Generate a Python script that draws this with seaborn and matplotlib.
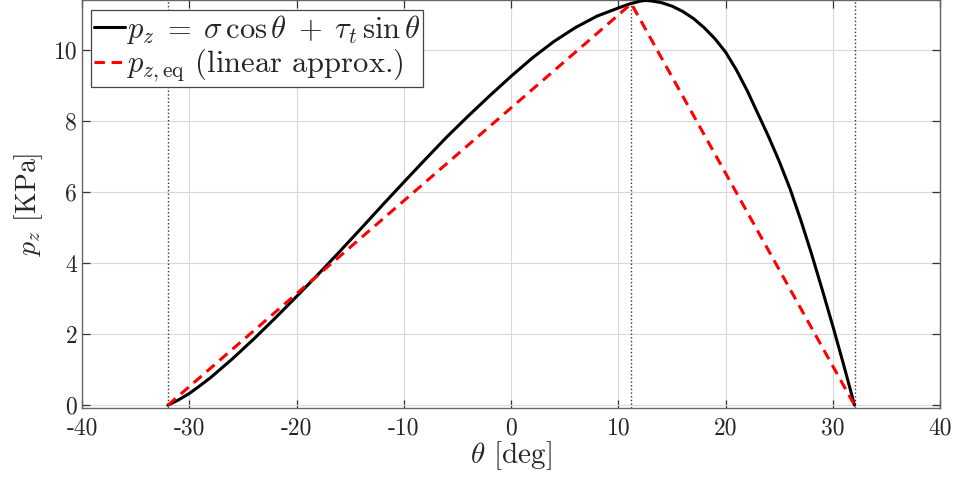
import numpy as np
import pandas as pd
import matplotlib
matplotlib.use('Agg')
import matplotlib.pyplot as plt
import seaborn as sns

# values
theta = [-32, -31, -30, -29, -28, -26, -24, -22, -20, -18, -16, -14, -12, -10,
         -8, -6, -4, -2, 0, 2, 4, 6, 8, 10, 11, 12, 12.5, 13, 14, 15, 16, 17, 18,
         19, 20, 21, 22, 23, 24, 25, 26, 27, 28, 29, 30, 31, 32]
p_z = [0.0, 0.15, 0.33, 0.55, 0.78, 1.30, 1.86, 2.45, 3.06, 3.68, 4.32, 4.97, 5.63, 6.28,
       6.92, 7.55, 8.14, 8.71, 9.26, 9.78, 10.24, 10.63, 10.95, 11.18, 11.29, 11.37, 11.39, 11.38,
       11.33, 11.23, 11.08, 10.88, 10.62, 10.31, 9.93, 9.43, 8.85, 8.20, 7.55, 6.85, 6.08, 5.20,
       4.25, 3.24, 2.20, 1.12, 0.0]
theta_eq = [-32.0, 11.2, 32.0]
p_eq = [0.0, 11.3, 0.0]
theta_marks = [-32.0, 11.2, 32.0]

curve = pd.DataFrame({'theta': theta, 'p': p_z})
approx = pd.DataFrame({'theta': theta_eq, 'p': p_eq})

sns.set_style('ticks')
plt.rcParams.update({
    'font.family': 'cmr10',
    'mathtext.fontset': 'cm',
    'axes.unicode_minus': False,
    'axes.formatter.use_mathtext': False,
})

fig = plt.figure(figsize=(9.58, 4.90), dpi=100)
ax = fig.add_axes([0.0856, 0.168, 0.896, 0.831])

for xv in theta_marks:
    ax.axvline(xv, color='#333333', linestyle=':', linewidth=1.0, zorder=1)

sns.lineplot(data=curve, x='theta', y='p', sort=False, color='black',
             linewidth=2.2, ax=ax,
             label=r'$p_z\;=\;\sigma\,\cos\theta\;+\;\tau_t\,\sin\theta$', zorder=3)
sns.lineplot(data=approx, x='theta', y='p', sort=False, color='red',
             linewidth=2.2, ax=ax,
             label=r'$p_{z,\mathrm{eq}}$ (linear approx.)', zorder=4)
ax.lines[-1].set_dashes((3.4, 2.2))

ax.set_xlim(-40, 40)
ax.set_ylim(-0.07, 11.39)
ax.set_xticks(np.arange(-40, 41, 10))
ax.set_yticks(np.arange(0, 11, 2))
ax.grid(True, color='#d9d9d9', linewidth=0.8)
ax.tick_params(direction='in', length=6, width=0.9, colors='#333333',
               labelsize=17, top=True, right=True, labelcolor='#262626')
ax.tick_params(axis='x', pad=7)
for s in ax.spines.values():
    s.set_color('#666666')
    s.set_linewidth(1.0)
    s.set_visible(True)

ax.set_xlabel(r'$\theta$ [deg]', fontsize=21, color='#262626', labelpad=0)
ax.set_ylabel(r'$p_z$ [KPa]', fontsize=20, color='#262626', labelpad=6)

leg = ax.legend(loc='upper left', fontsize=22, frameon=True, fancybox=False,
                handlelength=1.0, handletextpad=0.05, borderpad=0.1,
                labelspacing=0.05, borderaxespad=0.3, framealpha=1)
leg.get_frame().set_edgecolor('#444444')
leg.get_frame().set_linewidth(0.9)

fig.savefig('out.png', dpi=100, facecolor='white')
